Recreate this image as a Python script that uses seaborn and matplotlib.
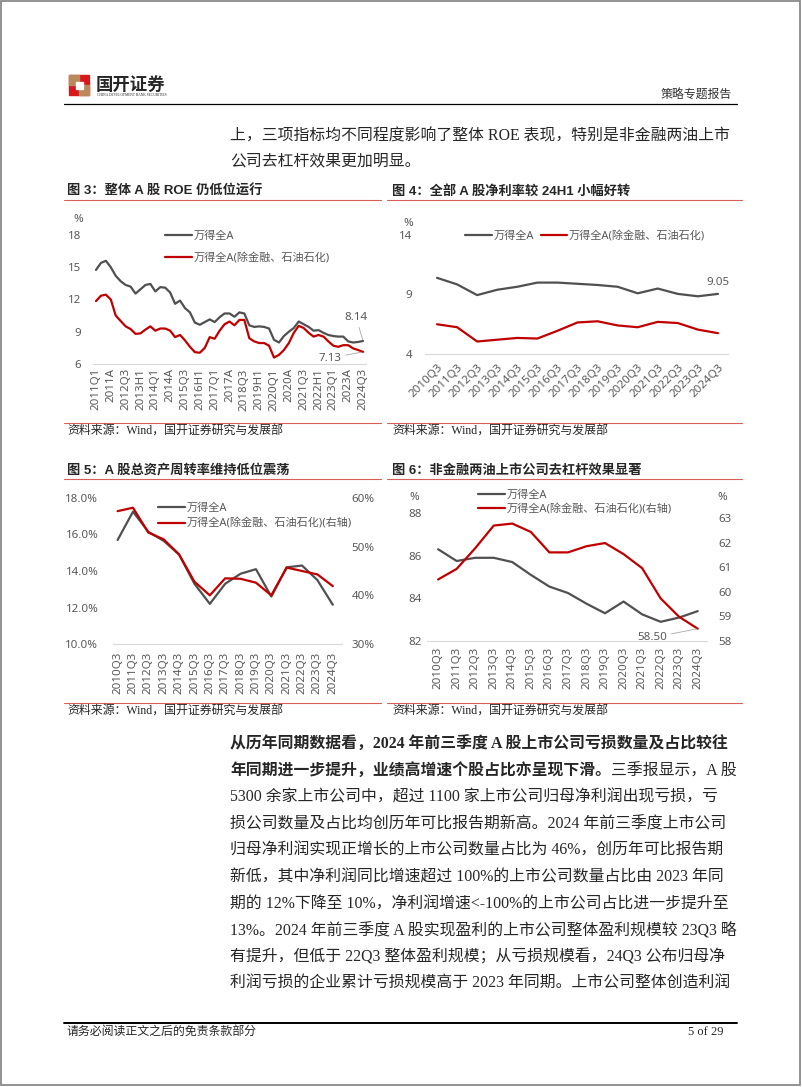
import numpy as np
import pandas as pd
import matplotlib
matplotlib.use('Agg')
import matplotlib.pyplot as plt
import matplotlib.patches as patches
import seaborn as sns

W, H = 802, 1087

# ---- data ----
roe_all = [14.75, 15.4, 15.6, 15.0, 14.2, 13.7, 13.35, 13.2, 12.55, 12.95, 13.35, 13.45, 12.75, 13.15,
           13.1, 12.65, 11.6, 11.9, 11.2, 10.8, 9.85, 9.65, 9.9, 10.15, 9.9, 10.35, 10.7, 10.7, 10.4,
           10.8, 10.7, 9.6, 9.45, 9.5, 9.45, 9.3, 8.25, 8.0, 8.6, 9.0, 9.35, 9.95, 9.7, 9.45, 9.1,
           9.15, 8.9, 8.7, 8.6, 8.55, 8.55, 8.1, 8.0, 8.05, 8.14]
roe_exfin = [11.85, 12.35, 12.45, 12.0, 10.5, 10.0, 9.5, 9.25, 8.8, 8.85, 9.2, 9.5, 9.1, 9.3,
             9.3, 9.1, 8.5, 8.7, 8.2, 7.6, 7.1, 7.05, 7.5, 8.5, 8.35, 9.1, 9.7, 9.95, 9.6,
             10.1, 10.1, 8.4, 8.1, 7.95, 7.95, 7.7, 6.6, 6.85, 7.3, 7.95, 8.9, 9.55, 9.35, 8.9, 8.55,
             8.7, 8.55, 8.1, 7.7, 7.6, 7.75, 7.75, 7.45, 7.3, 7.13]
quarter_tags = ['Q1', 'H1', 'Q3', 'A']
roe_periods = [f'{y}{q}' for y in range(2011, 2025) for q in quarter_tags][:len(roe_all)]

q3_periods = [f'{y}Q3' for y in range(2010, 2025)]
margin_all = [10.4, 9.85, 8.95, 9.4, 9.65, 10.0, 10.0, 9.9, 9.8, 9.65, 9.1, 9.5, 9.05, 8.85, 9.05]
margin_exfin = [6.5, 6.25, 5.05, 5.2, 5.35, 5.3, 5.95, 6.65, 6.75, 6.4, 6.25, 6.7, 6.6, 6.05, 5.75]
turnover_all = [15.7, 17.25, 16.15, 15.65, 14.9, 13.3, 12.2, 13.3, 13.85, 14.1, 12.6, 14.2, 14.3, 13.5, 12.15]
turnover_exfin = [57.3, 58.0, 52.9, 51.5, 48.4, 42.8, 40.0, 43.5, 43.4, 42.6, 40.0, 45.7, 45.0, 44.3, 41.9]
debt_all = [86.3, 85.75, 85.9, 85.9, 85.7, 85.1, 84.55, 84.25, 83.75, 83.3, 83.85, 83.25, 82.9, 83.1, 83.4]
debt_exfin = [60.5, 60.93, 61.77, 62.69, 62.77, 62.43, 61.6, 61.6, 61.85, 61.98, 61.53, 60.96, 59.73, 58.98, 58.5]

lab_all = '万得全A'
lab_ex = '万得全A(除金融、石油石化)'
lab_ex_r = '万得全A(除金融、石油石化)(右轴)'

DARK = '#505050'
RED = '#c00000'
GREY = '#595959'
RULE = '#d9605a'

sns.set_style('white')
plt.rcParams['font.family'] = ['Noto Sans', 'Noto Sans CJK SC']
SERIF = ['Liberation Serif', 'Noto Sans CJK SC']
BOLD = ['Liberation Sans', 'Noto Sans CJK SC']

fig = plt.figure(figsize=(W / 100, H / 100), dpi=100)
page = fig.add_axes([0, 0, 1, 1])
page.set_xlim(0, W)
page.set_ylim(H, 0)
page.axis('off')


def px_axes(l, t, r, b):
    return fig.add_axes([l / W, 1 - b / H, (r - l) / W, (b - t) / H])


def style(ax, ypad, xpad):
    for s in ['top', 'right', 'left']:
        ax.spines[s].set_visible(False)
    ax.spines['bottom'].set_color('#d9d9d9')
    ax.spines['bottom'].set_linewidth(0.8)
    ax.tick_params(length=0, labelsize=8.3, labelcolor=GREY)
    ax.tick_params(axis='y', pad=ypad)
    ax.tick_params(axis='x', pad=xpad)
    ax.set_xlabel('')
    ax.set_ylabel('')
    ax.patch.set_alpha(0)


def legend(ax, handles, labels, x, y, **kw):
    ax.legend(handles, labels, loc='upper left', bbox_to_anchor=(x / W, 1 - y / H),
              bbox_transform=fig.transFigure, frameon=False, fontsize=8, labelcolor=GREY,
              handlelength=2.4, handletextpad=0.15, borderpad=0, borderaxespad=0, **kw)


# ---- page frame, header, footer ----
page.add_patch(patches.Rectangle((1, 1), 799, 1084, fill=False, ec='#808080', lw=1.2))
page.add_patch(patches.Rectangle((69, 75), 20, 20, color='#d7191c'))
page.add_patch(patches.Rectangle((69, 75), 10, 10, color='#b8895a'))
page.add_patch(patches.Rectangle((79, 85), 10, 10, color='#b8895a'))
page.add_patch(patches.Rectangle((75.5, 81.5), 7, 7, color='white'))
page.text(96, 84, '国开证券', fontsize=12.5, weight='bold', va='center', family=BOLD)
page.text(97, 95, 'CHINA DEVELOPMENT BANK SECURITIES', fontsize=2.6, va='center', family=SERIF)
page.text(732, 95, '策略专题报告', fontsize=8.6, ha='right', va='center', color='#333333')
page.plot([64, 737], [104, 104], color='black', lw=0.9)

page.text(230, 137, '上，三项指标均不同程度影响了整体 ROE 表现，特别是非金融两油上市',
          fontsize=11.4, va='center', family=SERIF)
page.text(230, 161, '公司去杠杆效果更加明显。', fontsize=11.4, va='center', family=SERIF)

# chart titles / source lines
titles = [(67, 191, '图 3：整体 A 股 ROE 仍低位运行'),
          (392, 191, '图 4：全部 A 股净利率较 24H1 小幅好转'),
          (67, 470, '图 5：A 股总资产周转率维持低位震荡'),
          (392, 470, '图 6：非金融两油上市公司去杠杆效果显著')]
for tx, ty, tt in titles:
    page.text(tx, ty, tt, fontsize=9.5, weight='bold', va='center', family=BOLD)
    left = 64 if tx < 200 else 387
    right = 381 if tx < 200 else 742
    page.plot([left, right], [ty + 8.5, ty + 8.5], color=RULE, lw=0.8)
    src_y = 423 if ty < 300 else 703
    page.plot([left, right], [src_y, src_y], color=RULE, lw=0.8)
    page.text(tx, src_y + 9, '资料来源：Wind，国开证券研究与发展部', fontsize=8.6, va='center',
              family=SERIF)

# ---- chart 3: ROE ----
ax3 = px_axes(93, 235, 366, 364)
df3 = pd.DataFrame({'idx': np.arange(len(roe_all)), 'all': roe_all, 'ex': roe_exfin})
sns.lineplot(data=df3, x='idx', y='all', color=DARK, lw=1.6, label=lab_all, legend=False, ax=ax3)
sns.lineplot(data=df3, x='idx', y='ex', color=RED, lw=1.6, label=lab_ex, legend=False, ax=ax3)
ax3.set_ylim(6, 18)
ax3.set_yticks([6, 9, 12, 15, 18])
ax3.set_xlim(-0.6, len(roe_all) - 0.4)
ax3.set_xticks(df3['idx'][::3])
ax3.set_xticklabels(roe_periods[::3], rotation=90)
style(ax3, 8.5, 3)
h, l = ax3.get_legend_handles_labels()
legend(ax3, h, l, 165, 231, labelspacing=1.0)
ax3.annotate(f'{roe_all[-1]:.2f}', xy=(df3['idx'].iloc[-1], roe_all[-1]), xytext=(-5, 17),
             textcoords='offset points', ha='center', va='center', fontsize=8.3, color=GREY,
             arrowprops=dict(arrowstyle='-', color='#a6a6a6', lw=0.6, shrinkA=1, shrinkB=1))
ax3.annotate(f'{roe_exfin[-1]:.2f}', xy=(df3['idx'].iloc[-1], roe_exfin[-1]), xytext=(-24, -4.5),
             textcoords='offset points', ha='center', va='center', fontsize=8.3, color=GREY,
             arrowprops=dict(arrowstyle='-', color='#a6a6a6', lw=0.6, shrinkA=1, shrinkB=1))
page.text(78, 219, '%', fontsize=8.3, color=GREY, ha='center', va='center')

# ---- chart 4: net margin ----
ax4 = px_axes(425, 235, 728, 354)
df4 = pd.DataFrame({'idx': np.arange(len(q3_periods)), 'all': margin_all, 'ex': margin_exfin})
sns.lineplot(data=df4, x='idx', y='all', color=DARK, lw=1.6, label=lab_all, legend=False, ax=ax4)
sns.lineplot(data=df4, x='idx', y='ex', color=RED, lw=1.6, label=lab_ex, legend=False, ax=ax4)
ax4.set_ylim(4, 14)
ax4.set_yticks([4, 9, 14])
ax4.set_xlim(-0.6, len(q3_periods) - 0.5)
ax4.set_xticks(df4['idx'])
ax4.set_xticklabels(q3_periods, rotation=45, ha='right', rotation_mode='anchor')
style(ax4, 9, 5.5)
h, l = ax4.get_legend_handles_labels()
legend(ax4, h, l, 465, 231, ncol=2, columnspacing=0.6)
ax4.annotate(f'{margin_all[-1]:.2f}', xy=(df4['idx'].iloc[-1], margin_all[-1]), xytext=(0, 8),
             textcoords='offset points', ha='center', va='center', fontsize=8.3, color=GREY)
page.text(408, 223, '%', fontsize=8.3, color=GREY, ha='center', va='center')

# ---- chart 5: asset turnover ----
ax5 = px_axes(113, 498, 342, 644)
df5 = pd.DataFrame({'idx': np.arange(len(q3_periods)), 'all': turnover_all, 'ex': turnover_exfin})
sns.lineplot(data=df5, x='idx', y='all', color=DARK, lw=1.6, label=lab_all, legend=False, ax=ax5)
ax5r = ax5.twinx()
sns.lineplot(data=df5, x='idx', y='ex', color=RED, lw=1.6, label=lab_ex_r, legend=False, ax=ax5r)
ax5.set_ylim(10, 18)
ax5.set_yticks([10, 12, 14, 16, 18])
ax5.set_yticklabels([f'{v:.1f}%' for v in [10, 12, 14, 16, 18]])
ax5r.set_ylim(30, 60)
ax5r.set_yticks([30, 40, 50, 60])
ax5r.set_yticklabels([f'{v}%' for v in [30, 40, 50, 60]])
ax5.set_xlim(-0.3, len(q3_periods) - 0.4)
ax5.set_xticks(df5['idx'])
ax5.set_xticklabels(q3_periods, rotation=90)
style(ax5, 10.5, 5.5)
style(ax5r, 7, 5.5)
ax5r.spines['bottom'].set_visible(False)
h1, l1 = ax5.get_legend_handles_labels()
h2, l2 = ax5r.get_legend_handles_labels()
legend(ax5r, h1 + h2, l1 + l2, 158, 503, labelspacing=0.4)

# ---- chart 6: debt ratio ----
ax6 = px_axes(427, 513, 707, 641)
df6 = pd.DataFrame({'idx': np.arange(len(q3_periods)), 'all': debt_all, 'ex': debt_exfin})
sns.lineplot(data=df6, x='idx', y='all', color=DARK, lw=1.6, label=lab_all, legend=False, ax=ax6)
ax6r = ax6.twinx()
sns.lineplot(data=df6, x='idx', y='ex', color=RED, lw=1.6, label=lab_ex_r, legend=False, ax=ax6r)
ax6.set_ylim(82, 88)
ax6.set_yticks([82, 84, 86, 88])
ax6r.set_ylim(58, 63.2)
ax6r.set_yticks([58, 59, 60, 61, 62, 63])
ax6.set_xlim(-0.6, len(q3_periods) - 0.5)
ax6.set_xticks(df6['idx'])
ax6.set_xticklabels(q3_periods, rotation=90)
style(ax6, 3.5, 4.3)
style(ax6r, 8, 4.3)
ax6r.spines['bottom'].set_visible(False)
h1, l1 = ax6.get_legend_handles_labels()
h2, l2 = ax6r.get_legend_handles_labels()
legend(ax6r, h1 + h2, l1 + l2, 478, 490, labelspacing=0.3)
ax6r.annotate(f'{debt_exfin[-1]:.2f}', xy=(df6['idx'].iloc[-1], debt_exfin[-1]), xytext=(-33, -6.5),
              textcoords='offset points', ha='center', va='center', fontsize=8.3, color=GREY,
              arrowprops=dict(arrowstyle='-', color='#a6a6a6', lw=0.6, shrinkA=1, shrinkB=1))
page.text(414, 498, '%', fontsize=8.3, color=GREY, ha='center', va='center')
page.text(722, 498, '%', fontsize=8.3, color=GREY, ha='center', va='center')

# ---- body text ----
page.text(230, 745, '从历年同期数据看，2024 年前三季度 A 股上市公司亏损数量及占比较往',
          fontsize=11.4, weight='bold', va='center', family=SERIF)
b2 = page.text(230, 771.5, '年同期进一步提升，业绩高增速个股占比亦呈现下滑。',
               fontsize=11.4, weight='bold', va='center', family=SERIF)
page.annotate('三季报显示，A 股', xy=(1, 0.5), xycoords=b2, ha='left', va='center',
              fontsize=11.4, family=SERIF)
body = ['5300 余家上市公司中，超过 1100 家上市公司归母净利润出现亏损，亏',
        '损公司数量及占比均创历年可比报告期新高。2024 年前三季度上市公司',
        '归母净利润实现正增长的上市公司数量占比为 46%，创历年可比报告期',
        '新低，其中净利润同比增速超过 100%的上市公司数量占比由 2023 年同',
        '期的 12%下降至 10%，净利润增速<-100%的上市公司占比进一步提升至',
        '13%。2024 年前三季度 A 股实现盈利的上市公司整体盈利规模较 23Q3 略',
        '有提升，但低于 22Q3 整体盈利规模；从亏损规模看，24Q3 公布归母净',
        '利润亏损的企业累计亏损规模高于 2023 年同期。上市公司整体创造利润']
for i, line in enumerate(body):
    page.text(230, 798 + 26.5 * i, line, fontsize=11.4, va='center', family=SERIF)

page.plot([64, 737], [1023, 1023], color='black', lw=1.4)
page.text(67, 1032, '请务必阅读正文之后的免责条款部分', fontsize=8.6, va='center', family=SERIF)
page.text(723, 1032, '5 of 29', fontsize=9, ha='right', va='center', family=SERIF)

fig.savefig('out.png', dpi=100)
